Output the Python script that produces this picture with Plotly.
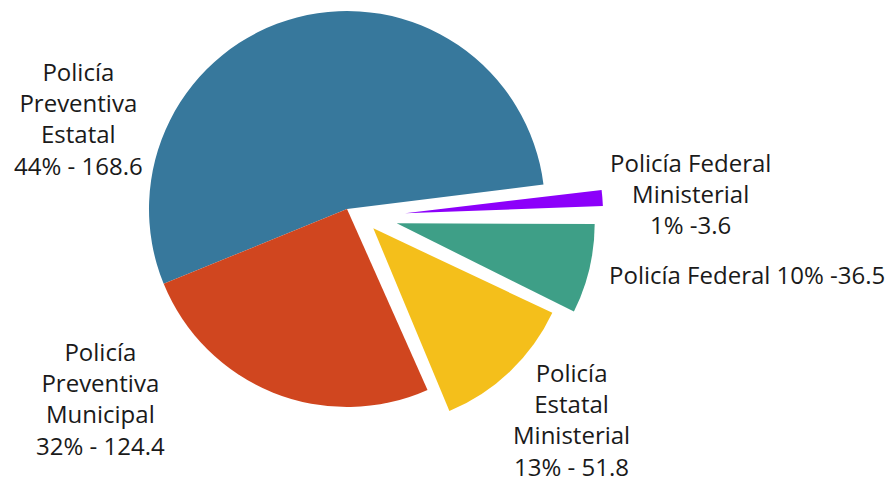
import plotly.graph_objects as go

# ---- data -------------------------------------------------------------
categories = [
    "Policía Preventiva Estatal",
    "Policía Preventiva Municipal",
    "Policía Estatal Ministerial",
    "Policía Federal",
    "Policía Federal Ministerial",
]
# share of the circle each slice occupies as drawn (percent)
drawn_share = [54.2, 25.5, 11.7, 7.3, 1.3]
# printed label figures
label_pct = ["44%", "32%", "13%", "10%", "1%"]
label_amount = ["168.6", "124.4", "51.8", "36.5", "3.6"]
label_names = [
    "Policía<br>Preventiva<br>Estatal",
    "Policía<br>Preventiva<br>Municipal",
    "Policía<br>Estatal<br>Ministerial",
    "Policía Federal",
    "Policía Federal<br>Ministerial",
]
label_sep = [" - ", " - ", " - ", " -", " -"]
label_join = ["<br>", "<br>", "<br>", " ", "<br>"]

colors = ["#37789C", "#D0461F", "#F4BF1B", "#3E9F87", "#8C00FA"]

OFF = 8            # page body margin
W, H = 895 - OFF, 485 - OFF
R = 198

# groups of slices: (visible slice indices, vertex x, vertex y, rotation) in window pixels
groups = [
    ([0, 1], 347.0, 209.0, -112.2),
    ([2], 373.3, 228.3, -110.8),
    ([3], 396.7, 223.3, -109.6),
    ([4], 405.0, 213.3, -111.9),
]

fig = go.Figure()
for vis, cx, cy, rot in groups:
    cx, cy = cx - OFF, cy - OFF
    cols = [colors[i] if i in vis else "rgba(0,0,0,0)" for i in range(len(categories))]
    fig.add_trace(go.Pie(
        labels=categories,
        values=drawn_share,
        sort=False,
        direction="counterclockwise",
        rotation=rot,
        marker=dict(colors=cols, line=dict(width=0)),
        textinfo="none",
        textposition="none",
        hoverinfo="label",
        showlegend=False,
        domain=dict(x=[(cx - R) / W, (cx + R) / W],
                    y=[1 - (cy + R) / H, 1 - (cy - R) / H]),
    ))

# label positions (pixel centres in the window)
label_pos = [(78, 119), (100, 398), (571, 419), (747, 274), (690, 193)]
for i, (px, py) in enumerate(label_pos):
    px, py = px - OFF, py - OFF
    txt = label_names[i] + label_join[i] + label_pct[i] + label_sep[i] + label_amount[i]
    fig.add_annotation(
        x=px / W, y=1 - py / H, xref="paper", yref="paper",
        text=txt, showarrow=False, align="center",
        xanchor="center", yanchor="middle", borderpad=0,
        font=dict(family="Open Sans", size=24, color="#1a1a1a"),
    )

fig.update_layout(
    width=W, height=H,
    margin=dict(l=0, r=0, t=0, b=0),
    paper_bgcolor="white", plot_bgcolor="white",
)
fig.write_html("out.html")
